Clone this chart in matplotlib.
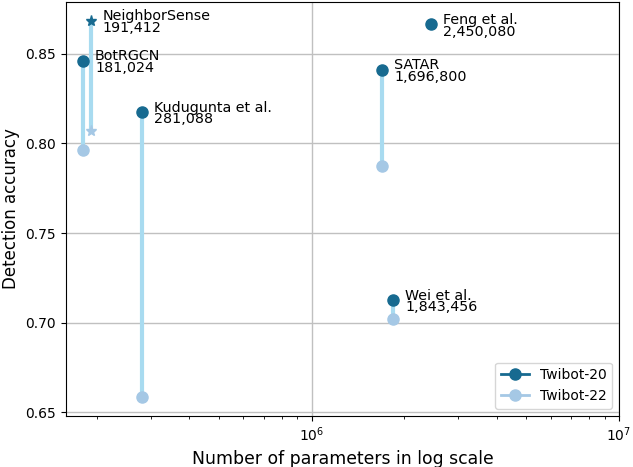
import matplotlib
matplotlib.use("Agg")
import matplotlib.pyplot as plt
from matplotlib.lines import Line2D

# model data
models = ["NeighborSense", "BotRGCN", "Kudugunta et al.", "Feng et al.", "SATAR", "Wei et al."]
params = [191412, 181024, 281088, 2450080, 1696800, 1843456]
acc_twibot20 = [0.8685, 0.8462, 0.8174, 0.8664, 0.8412, 0.7126]
acc_twibot22 = [0.8072, 0.7966, 0.6587, None, 0.7873, 0.7022]
markers = ["*", "o", "o", "o", "o", "o"]

dark = "#176a90"
light = "#a5c8e5"
stem = "#a8dbf0"

fig, ax = plt.subplots(figsize=(6.33, 4.67), dpi=100)

for name, p, a20, a22, m in zip(models, params, acc_twibot20, acc_twibot22, markers):
    if a22 is not None:
        ax.plot([p, p], [a20, a22], color=stem, lw=3, zorder=2)
        ax.plot(p, a22, marker=m, color=light, ms=8, ls="none", zorder=3)
    ax.plot(p, a20, marker=m, color=dark, ms=8, ls="none", zorder=4)
    ax.annotate(f"{name}\n{p:,}", (p, a20), xytext=(8.5, -1), textcoords="offset points",
                va="center", ha="left", fontsize=10.3, linespacing=0.78)

ax.set_xscale("log")
ax.set_xlim(right=1e7)
ax.grid(True, which="major", color="#c0c0c0", lw=1)
ax.set_axisbelow(True)
ax.tick_params(labelsize=10)
ax.set_xlabel("Number of parameters in log scale", fontsize=12.4)
ax.set_ylabel("Detection accuracy", fontsize=12)

handles = [
    Line2D([0], [0], color=dark, marker="o", lw=2, ms=8),
    Line2D([0], [0], color=light, marker="o", lw=2, ms=8),
]
ax.legend(handles, ["Twibot-20", "Twibot-22"], loc="lower right", fontsize=10)

fig.subplots_adjust(left=0.104, right=0.978, top=0.996, bottom=0.11)
fig.savefig("out.png", dpi=100)
